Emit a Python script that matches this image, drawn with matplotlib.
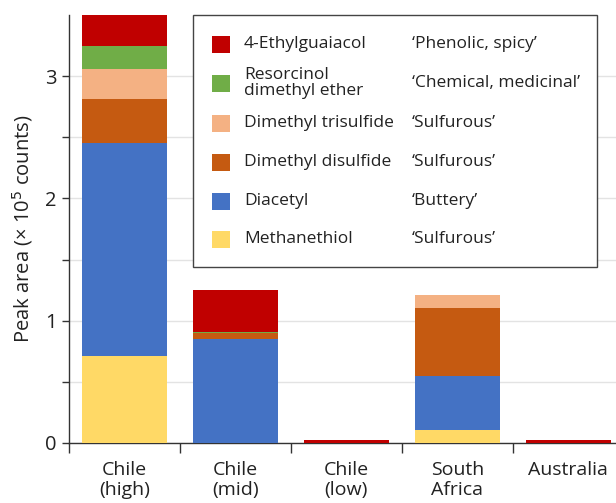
import numpy as np
import matplotlib
matplotlib.use("Agg")
import matplotlib.pyplot as plt
from matplotlib.patches import Rectangle

plt.rcParams['font.family'] = ['Open Sans', 'DejaVu Sans']

regions = ['Chile\n(high)', 'Chile\n(mid)', 'Chile\n(low)', 'South\nAfrica', 'Australia']

# peak areas in units of 1e5 counts, stacked bottom to top
methanethiol = [0.71, 0.0, 0.0, 0.104, 0.0]
diacetyl = [1.74, 0.85, 0.0, 0.446, 0.0]
dm_disulfide = [0.365, 0.047, 0.0, 0.556, 0.0]
dm_trisulfide = [0.243, 0.0, 0.0, 0.102, 0.0]
resorcinol_dme = [0.192, 0.01, 0.0, 0.0, 0.0]
ethylguaiacol = [0.25, 0.344, 0.025, 0.0, 0.025]

compounds = ['Methanethiol', 'Diacetyl', 'Dimethyl disulfide', 'Dimethyl trisulfide',
             'Resorcinol\ndimethyl ether', '4-Ethylguaiacol']
descriptors = ['\u2018Sulfurous\u2019', '\u2018Buttery\u2019', '\u2018Sulfurous\u2019', '\u2018Sulfurous\u2019',
               '\u2018Chemical, medicinal\u2019', '\u2018Phenolic, spicy\u2019']
colors = ['#FFD966', '#4472C4', '#C55A11', '#F4B183', '#70AD47', '#C00000']

series = [methanethiol, diacetyl, dm_disulfide, dm_trisulfide, resorcinol_dme, ethylguaiacol]

W, H = 616, 503
fig = plt.figure(figsize=(W / 100, H / 100), dpi=100)
ax = fig.add_axes([69 / W, 1 - 443 / H, 1 - 69 / W, (443 - 15) / H])

x = np.arange(len(regions))
bottom = np.zeros(len(regions))
for vals, col in zip(series, colors):
    vals = np.array(vals)
    ax.bar(x, vals, width=0.766, bottom=bottom, color=col, zorder=3, linewidth=0)
    bottom += vals

ax.set_xlim(-0.5, 4.43)
ax.set_ylim(0, 3.5)
ax.set_yticks([0, 1, 2, 3])
ax.set_yticks([0.5, 1.5, 2.5], minor=True)
ax.set_yticklabels(['0', '1', '2', '3'], fontsize=14.5, color='#222222')
ax.grid(axis='y', which='both', color='#e3e3e3', linewidth=1, zorder=0)

# category labels at bar centres, tick marks at the boundaries
ax.set_xticks(x - 0.5)
ax.set_xticklabels([])
ax.set_xticks(x, minor=True)
ax.set_xticklabels(regions, minor=True, fontsize=14, color='#222222', linespacing=1.15)
ax.tick_params(axis='x', which='major', length=7, width=1, color='#333333')
ax.tick_params(axis='x', which='minor', length=0, pad=13)
ax.tick_params(axis='y', which='both', length=5, width=1, color='#333333', pad=4)

for s in ['top', 'right']:
    ax.spines[s].set_visible(False)
for s in ['left', 'bottom']:
    ax.spines[s].set_color('#333333')
    ax.spines[s].set_linewidth(1)

ax.set_ylabel('Peak area (\u00d7 10$^5$ counts)', fontsize=14.5, color='#222222', labelpad=7)

# legend box with compound names and odour descriptors
def fx(px):
    return px / W

def fy(py):
    return 1 - py / H

fig.patches.append(Rectangle((fx(193), fy(267)), fx(597) - fx(193), fy(15) - fy(267),
                             transform=fig.transFigure, facecolor='white',
                             edgecolor='#444444', linewidth=1, zorder=10))
row_y = [239, 201, 162, 123, 83, 44]
for name, desc, col, ry in zip(compounds, descriptors, colors, row_y):
    fig.patches.append(Rectangle((fx(212), fy(ry + 9)), fx(18), 17 / H,
                                 transform=fig.transFigure, facecolor=col,
                                 edgecolor='none', zorder=11))
    fig.text(fx(244), fy(ry), name, fontsize=12.5, va='center', ha='left',
             color='#222222', linespacing=0.95, zorder=12)
    fig.text(fx(412), fy(ry), desc, fontsize=12.5, va='center', ha='left',
             color='#222222', zorder=12)

fig.savefig('out.png', dpi=100)
